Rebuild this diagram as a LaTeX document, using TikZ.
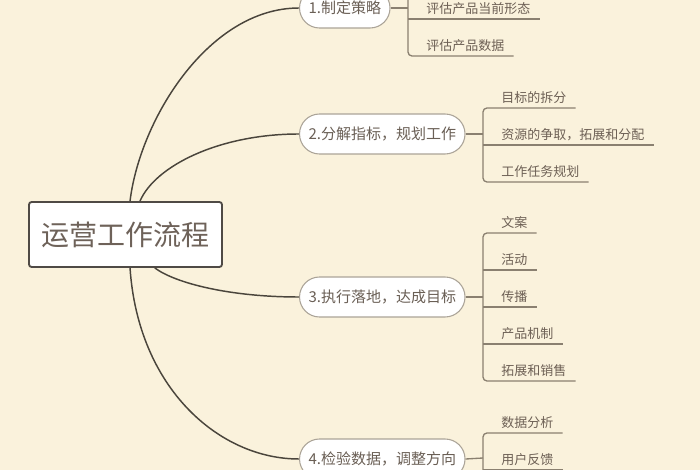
\documentclass[tikz,border=0pt]{standalone}
\usepackage{fontspec}
\setmainfont{Noto Sans CJK SC}
\usetikzlibrary{positioning}
\definecolor{paper}{HTML}{FAF2DC}
\definecolor{rootline}{HTML}{4F4A45}
\definecolor{roottext}{HTML}{6E6259}
\definecolor{pillline}{HTML}{ABA498}
\definecolor{stagetext}{HTML}{6A5F55}
\definecolor{leaftext}{HTML}{6D6055}
\definecolor{trunkline}{HTML}{4A453C}
\definecolor{twigline}{HTML}{8A8070}

\begin{document}
\begin{tikzpicture}[x=0.75pt, y=-0.75pt,
    root/.style={rectangle, draw=rootline, line width=1.4pt, fill=white, rounded corners=2pt,
        minimum width=144.75pt, minimum height=48.75pt, text=roottext, font=\fontsize{21pt}{24pt}\selectfont},
    stage/.style={rectangle, draw=pillline, line width=0.8pt, fill=white, rounded corners=15pt,
        minimum height=30pt, inner xsep=6.75pt, anchor=west, text=stagetext, font=\fontsize{11.25pt}{13pt}\selectfont},
    leaf/.style={anchor=south west, inner xsep=6.75pt, inner ysep=3pt, text=leaftext, font=\fontsize{9.75pt}{11pt}\selectfont},
    trunk/.style={draw=trunkline, line width=1.1pt},
    twig/.style={draw=twigline, line width=1pt}]
    \useasboundingbox (0,0) rectangle (700,470);
    \clip (0,0) rectangle (700,470);
    \fill[paper] (0,0) rectangle (700,470);

    % main branches
    \node[root] (root) at (125.5,234.5) {运营工作流程};
    \node[stage] (s1) at (299,8) {1.制定策略};
    \node[stage] (s2) at (299,134) {2.分解指标，规划工作};
    \node[stage] (s3) at (299,297) {3.执行落地，达成目标};
    \node[stage] (s4) at (299,459) {4.检验数据，调整方向};

    \draw[trunk] ([xshift=3.4pt]root.north) .. controls +(10,-82) and +(-90,0) .. (s1.west);
    \draw[trunk] ([xshift=10.9pt]root.north) .. controls +(15,-35) and +(-80,0) .. (s2.west);
    \draw[trunk] ([xshift=22pt]root.south) .. controls +(20,15) and +(-70,0) .. (s3.west);
    \draw[trunk] ([xshift=3.4pt]root.south) .. controls +(8,120) and +(-80,0) .. (s4.west);

    % 1
    \coordinate (b1) at (408,8);
    \coordinate (e1) at (408,-20);
    \node[leaf] (g1) at (417,19) {评估产品当前形态};
    \node[leaf] (g2) at (417,56) {评估产品数据};
    \draw[twig] (s1.east) -- (b1);
    \draw[twig, rounded corners=3pt] (e1) -- (b1 |- g2.south) -- (g2.south east);
    \draw[twig] (b1 |- g1.south) -- (g1.south east);

    % 2
    \coordinate (b2) at (483,134);
    \node[leaf] (h1) at (492,108) {目标的拆分};
    \node[leaf] (h2) at (492,145) {资源的争取，拓展和分配};
    \node[leaf] (h3) at (492,182) {工作任务规划};
    \draw[twig] (s2.east) -- (b2);
    \draw[twig, rounded corners=3pt] (h1.south east) -- (b2 |- h1.south) -- (b2 |- h3.south) -- (h3.south east);
    \draw[twig] (b2 |- h2.south) -- (h2.south east);

    % 3
    \coordinate (b3) at (483,297);
    \node[leaf] (k1) at (492,233) {文案};
    \node[leaf] (k2) at (492,270) {活动};
    \node[leaf] (k3) at (492,307) {传播};
    \node[leaf] (k4) at (492,344) {产品机制};
    \node[leaf] (k5) at (492,381) {拓展和销售};
    \draw[twig] (s3.east) -- (b3);
    \draw[twig, rounded corners=3pt] (k1.south east) -- (b3 |- k1.south) -- (b3 |- k5.south) -- (k5.south east);
    \draw[twig] (b3 |- k2.south) -- (k2.south east);
    \draw[twig] (b3 |- k3.south) -- (k3.south east);
    \draw[twig] (b3 |- k4.south) -- (k4.south east);

    % 4
    \coordinate (b4) at (483,458);
    \coordinate (e4) at (483,490);
    \node[leaf] (d1) at (492,433) {数据分析};
    \node[leaf] (d2) at (492,470) {用户反馈};
    \draw[twig] (s4.east) -- (b4);
    \draw[twig, rounded corners=3pt] (d1.south east) -- (b4 |- d1.south) -- (e4);
    \draw[twig] (b4 |- d2.south) -- (d2.south east);
\end{tikzpicture}
\end{document}
